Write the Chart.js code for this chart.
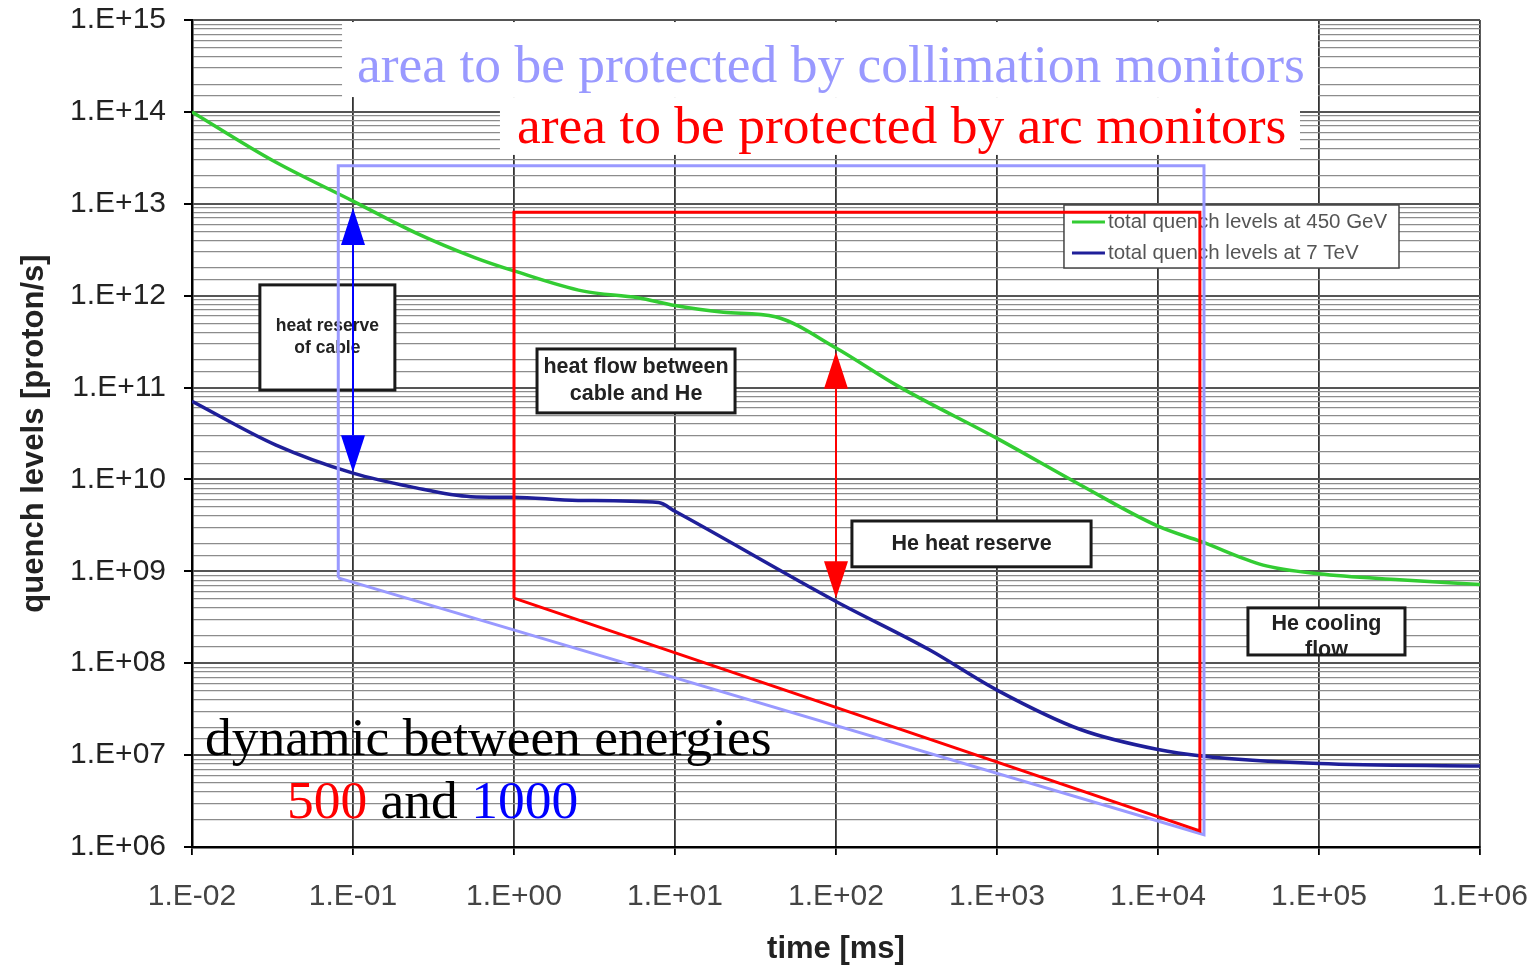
<!DOCTYPE html>
<html lang="en">
<head>
<meta charset="UTF-8">
<title>quench levels</title>
<style>
  html, body { margin: 0; padding: 0; background: #fff; }
  #wrap { width: 1537px; height: 970px; }
</style>
</head>
<body>
<div id="wrap"><canvas id="myChart"></canvas></div>

<script src="https://cdn.jsdelivr.net/npm/chart.js"></script>
<script>
// total quench levels, time [ms] vs proton/s
const t450 = [0.01, 0.0313, 0.1, 0.247, 0.57, 1, 2.7, 5.9, 10, 20, 42, 100, 240, 1000, 3300, 10000, 18600, 45000, 100000, 316000, 1000000];
const q450 = [1.0e14, 3.0e13, 1.07e13, 4.8e12, 2.6e12, 1.86e12, 1.12e12, 9.5e11, 7.8e11, 6.6e11, 5.9e11, 2.7e11, 1.05e11, 2.8e10, 8.7e9, 3.1e9, 2.1e9, 1.17e9, 9.4e8, 8.1e8, 7.2e8];
const t7 = [0.01, 0.033, 0.1, 0.23, 0.54, 1, 2.5, 7.9, 10, 100, 380, 1000, 3300, 10000, 18600, 100000, 1000000];
const q7 = [7.1e10, 2.38e10, 1.17e10, 8.3e9, 6.5e9, 6.4e9, 5.9e9, 5.6e9, 4.5e9, 4.7e8, 1.4e8, 5.1e7, 1.9e7, 1.15e7, 9.8e6, 8.1e6, 7.6e6];

// protected areas (outlines)
const collimT = [0.081, 0.081, 19300, 19300, 0.081];
const collimQ = [8.5e8, 2.6e13, 2.6e13, 1.36e6, 8.5e8];
const arcT = [1, 1, 18200, 18200, 1];
const arcQ = [5.1e8, 8.1e12, 8.1e12, 1.5e6, 5.1e8];

// double arrows between the two energies
const arrowT = [0.1, 100];
const arrowHi = [9e12, 2.45e11];
const arrowLo = [1.2e10, 5.1e8];
const arrowColor = ['#0000ff', '#ff0000'];

const xTicks = [-2, -1, 0, 1, 2, 3, 4, 5, 6];
const yTicks = [6, 7, 8, 9, 10, 11, 12, 13, 14, 15];

const SANS = '"Liberation Sans", Arial, sans-serif';
const SERIF = '"Liberation Serif", "Times New Roman", serif';

// text boxes, corners in data coords
const notes = [
    { t: [0.0264, 0.182], q: [1.31e12, 9.4e10], lines: ['heat reserve', 'of cable'], dy: [41, 63], size: 17.5 },
    { t: [1.39, 23.6], q: [2.63e11, 5.3e10], lines: ['heat flow between', 'cable and He'], dy: [18, 45], size: 21.5 },
    { t: [125.6, 3840], q: [3.53e9, 1.12e9], lines: ['He heat reserve'], dy: [23], size: 21.5 },
    { t: [36200, 342000], q: [4.0e8, 1.23e8], lines: ['He cooling', 'flow'], dy: [16, 42], size: 21.5 }
];
const banners = [
    { t: [0.0855, 98600], q: [9.5e14, 1.45e14], text: 'area to be protected by collimation monitors', color: '#9999ff', dx: 15, base: 60 },
    { t: [0.818, 76200], q: [1.45e14, 3.4e13], text: 'area to be protected by arc monitors', color: '#ff0000', dx: 17, base: 46 }
];
const legendBox = { t: [2606, 314000], q: [9.7e12, 2.0e12] };

const isDecade = v => Math.abs(Math.log10(v) - Math.round(Math.log10(v))) < 1e-6;
const sci = v => {
    const e = Math.round(Math.log10(v));
    return '1.E' + (e < 0 ? '-' : '+') + String(Math.abs(e)).padStart(2, '0');
};
const pts = (a, b) => a.map((t, i) => ({ x: t, y: b[i] }));

const overlay = {
    id: 'overlay',
    beforeDatasetsDraw(chart) {
        const { ctx, scales: { x, y } } = chart;
        ctx.save();
        notes.forEach(n => {
            const l = x.getPixelForValue(n.t[0]), r = x.getPixelForValue(n.t[1]);
            const top = y.getPixelForValue(n.q[0]), bot = y.getPixelForValue(n.q[1]);
            ctx.fillStyle = '#fff';
            ctx.fillRect(l, top, r - l, bot - top);
            ctx.save();
            ctx.beginPath();
            ctx.rect(l, top, r - l, bot - top);
            ctx.clip();
            ctx.fillStyle = '#222';
            ctx.font = 'bold ' + n.size + 'px ' + SANS;
            ctx.textAlign = 'center';
            ctx.textBaseline = 'middle';
            n.lines.forEach((s, i) => ctx.fillText(s, (l + r) / 2, top + n.dy[i]));
            ctx.restore();
            ctx.strokeStyle = '#1a1a1a';
            ctx.lineWidth = 3;
            ctx.strokeRect(l, top, r - l, bot - top);
        });

        // legend
        const l = x.getPixelForValue(legendBox.t[0]), r = x.getPixelForValue(legendBox.t[1]);
        const top = y.getPixelForValue(legendBox.q[0]), bot = y.getPixelForValue(legendBox.q[1]);
        ctx.fillStyle = '#fff';
        ctx.fillRect(l, top, r - l, bot - top);
        ctx.strokeStyle = '#444';
        ctx.lineWidth = 1.5;
        ctx.strokeRect(l, top, r - l, bot - top);
        ctx.font = '20.5px ' + SANS;
        ctx.textAlign = 'left';
        ctx.textBaseline = 'middle';
        [0, 1].forEach(i => {
            const ds = chart.data.datasets[i];
            const yy = top + 17 + i * 31;
            ctx.strokeStyle = ds.borderColor;
            ctx.lineWidth = 3;
            ctx.beginPath();
            ctx.moveTo(l + 8, yy);
            ctx.lineTo(l + 41, yy);
            ctx.stroke();
            ctx.fillStyle = '#555';
            ctx.fillText(ds.label, l + 44, yy);
        });
        ctx.restore();
    },
    afterDatasetsDraw(chart) {
        const { ctx, scales: { x, y } } = chart;
        ctx.save();
        arrowT.forEach((t, i) => {
            const xp = x.getPixelForValue(t);
            const y0 = y.getPixelForValue(arrowHi[i]), y1 = y.getPixelForValue(arrowLo[i]);
            const hl = 37, hw = 12;
            ctx.strokeStyle = arrowColor[i];
            ctx.fillStyle = arrowColor[i];
            ctx.lineWidth = 2;
            ctx.beginPath();
            ctx.moveTo(xp, y0 + hl);
            ctx.lineTo(xp, y1 - hl);
            ctx.stroke();
            ctx.beginPath();
            ctx.moveTo(xp, y0);
            ctx.lineTo(xp - hw, y0 + hl);
            ctx.lineTo(xp + hw, y0 + hl);
            ctx.closePath();
            ctx.fill();
            ctx.beginPath();
            ctx.moveTo(xp, y1);
            ctx.lineTo(xp - hw, y1 - hl);
            ctx.lineTo(xp + hw, y1 - hl);
            ctx.closePath();
            ctx.fill();
        });

        banners.forEach(b => {
            const l = x.getPixelForValue(b.t[0]), r = x.getPixelForValue(b.t[1]);
            const top = y.getPixelForValue(b.q[0]), bot = y.getPixelForValue(b.q[1]);
            ctx.fillStyle = '#fff';
            ctx.fillRect(l, top, r - l, bot - top);
            ctx.fillStyle = b.color;
            ctx.font = '53.5px ' + SERIF;
            ctx.textAlign = 'left';
            ctx.textBaseline = 'alphabetic';
            ctx.fillText(b.text, l + b.dx, top + b.base);
        });

        ctx.font = '53.5px ' + SERIF;
        ctx.textAlign = 'left';
        ctx.textBaseline = 'alphabetic';
        ctx.fillStyle = '#000';
        ctx.fillText('dynamic between energies', x.getPixelForValue(0.01205), y.getPixelForValue(1.0e7));
        let xp = x.getPixelForValue(0.0389);
        const yp = y.getPixelForValue(2.07e6);
        [['500', '#ff0000'], [' and ', '#000000'], ['1000', '#0000ff']].forEach(([s, c]) => {
            ctx.fillStyle = c;
            ctx.fillText(s, xp, yp);
            xp += ctx.measureText(s).width;
        });
        ctx.restore();
    }
};

const ctx = document.getElementById('myChart');

new Chart(ctx, {
    type: 'line',
    data: {
        datasets: [
            { label: 'total quench levels at 450 GeV', data: pts(t450, q450), borderColor: '#33cc33', borderWidth: 3.5, cubicInterpolationMode: 'monotone', order: 3 },
            { label: 'total quench levels at 7 TeV', data: pts(t7, q7), borderColor: '#1f1f99', borderWidth: 3.5, cubicInterpolationMode: 'monotone', order: 3 },
            { label: 'collimation', data: pts(collimT, collimQ), borderColor: '#9999ff', borderWidth: 3, tension: 0, order: 2 },
            { label: 'arc', data: pts(arcT, arcQ), borderColor: '#ff0000', borderWidth: 3, tension: 0, order: 1 }
        ]
    },
    options: {
        responsive: true,
        maintainAspectRatio: false,
        animation: false,
        layout: { autoPadding: false, padding: { top: 20, right: 57, left: 0, bottom: 0 } },
        elements: { point: { radius: 0 } },
        plugins: { legend: { display: false }, tooltip: { enabled: false } },
        scales: {
            x: {
                type: 'logarithmic',
                min: 0.01,
                max: 1e6,
                afterFit: s => { s.height = 123; s.paddingLeft = 0; s.paddingRight = 0; },
                border: { color: '#000', width: 2.5 },
                grid: {
                    color: c => isDecade(c.tick.value) ? '#333' : 'rgba(0,0,0,0)',
                    lineWidth: 1.8,
                    tickLength: 8,
                    tickColor: c => isDecade(c.tick.value) ? '#000' : 'rgba(0,0,0,0)'
                },
                ticks: {
                    autoSkip: false,
                    maxRotation: 0,
                    padding: 24,
                    color: '#444',
                    font: { size: 30, family: SANS },
                    callback: v => (isDecade(v) && xTicks.includes(Math.round(Math.log10(v)))) ? sci(v) : ''
                },
                title: { display: true, text: 'time [ms]', color: '#222', font: { size: 31, weight: 'bold', family: SANS }, padding: { top: 0, bottom: 2 } }
            },
            y: {
                type: 'logarithmic',
                min: 1e6,
                max: 1e15,
                afterFit: s => { s.width = 192; s.paddingTop = 0; s.paddingBottom = 0; },
                border: { color: '#000', width: 2.5 },
                grid: {
                    color: c => isDecade(c.tick.value) ? '#555' : '#8c8c8c',
                    lineWidth: c => isDecade(c.tick.value) ? 2 : 1.3,
                    tickLength: 8,
                    tickColor: c => isDecade(c.tick.value) ? '#000' : 'rgba(0,0,0,0)'
                },
                ticks: {
                    autoSkip: false,
                    padding: 18,
                    color: '#222',
                    font: { size: 30, family: SANS },
                    callback: v => (isDecade(v) && yTicks.includes(Math.round(Math.log10(v)))) ? sci(v) : ''
                },
                title: { display: true, text: 'quench levels [proton/s]', color: '#222', font: { size: 31, weight: 'bold', family: SANS }, padding: { top: 16, bottom: 0 } }
            }
        }
    },
    plugins: [overlay]
});
</script>
</body>
</html>
